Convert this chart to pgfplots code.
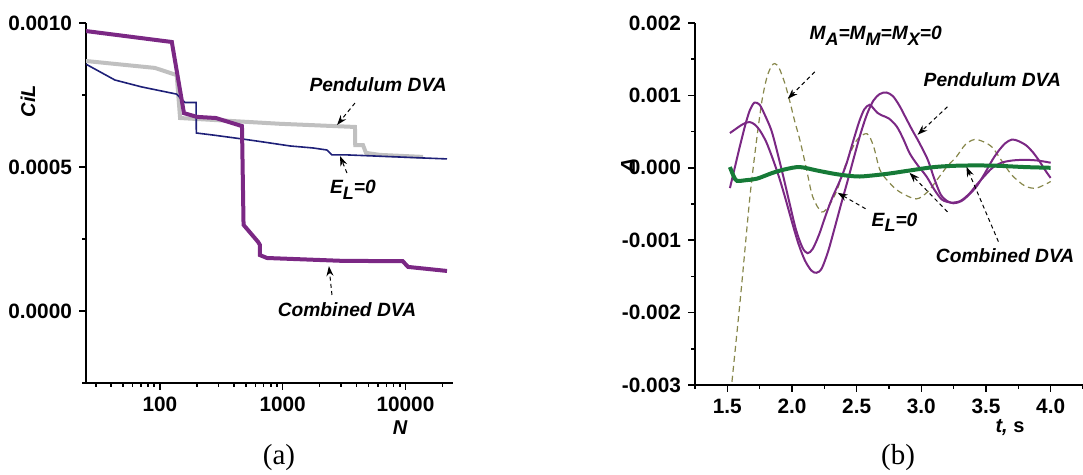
\documentclass[border=0pt]{standalone}
\usepackage{fontspec}
\setmainfont{Liberation Sans}
\newfontfamily\seriffont{Liberation Serif}
\usepackage{pgfplots}
\pgfplotsset{compat=1.18}
\usetikzlibrary{arrows.meta}

\definecolor{cpurple}{RGB}{123,40,132}
\definecolor{cgray}{RGB}{192,192,192}
\definecolor{cnavy}{RGB}{30,32,120}
\definecolor{cgreen}{RGB}{22,122,55}
\definecolor{colive}{RGB}{135,135,75}

\newcommand\sub[1]{\raisebox{-0.3em}{\fontsize{9}{10}\selectfont #1}}

\tikzset{
  lab/.style={font=\fontsize{9.6}{11}\selectfont\bfseries\itshape, inner sep=0pt},
  ann/.style={dash pattern=on 2pt off 1.6pt, line width=0.5pt, black,
    -{Stealth[length=5pt,width=3.5pt]}},
}

\pgfplotsset{
  panel/.style={
    scale only axis,
    axis lines*=left,
    tick align=outside,
    major tick length=3.5pt,
    minor tick length=2pt,
    tick style={black, line width=0.8pt},
    axis line style={line width=0.8pt},
    ticklabel style={font=\fontsize{10.4}{12}\selectfont\bfseries},
    scaled y ticks=false,
    clip mode=individual,
  }
}

\begin{document}
\begin{tikzpicture}
\useasboundingbox (0,0) rectangle (541.5pt,237.5pt);

% (a)
\begin{axis}[panel,
  at={(43pt,46pt)}, anchor=south west,
  width=183.5pt, height=180pt,
  xmode=log, xmin=25, xmax=24400,
  ymin=-0.00025, ymax=0.001,
  xtick={100,1000,10000}, xticklabels={100,1000,10000},
  minor xtick={30,40,50,60,70,80,90,200,300,400,500,600,700,800,900,2000,3000,4000,5000,6000,7000,8000,9000,20000},
  ytick={0,0.0005,0.001}, yticklabels={0.0000,0.0005,0.0010},
  minor ytick={-0.00025,0.00025,0.00075},
]
\addplot[cgray, line width=2pt] coordinates {
 (25,0.000868) (91,0.000844) (137,0.000819) (146,0.000670) (950,0.000650)
 (3880,0.000639) (3900,0.000576) (4510,0.000576) (4770,0.000549)
 (6200,0.000542) (13900,0.000535)
};
\addplot[cnavy, line width=0.8pt] coordinates {
 (25,0.000857) (43,0.000802) (71,0.000778) (137,0.000753) (150,0.000735)
 (160,0.000724) (197,0.000724) (198,0.000618) (270,0.000611) (474,0.000597)
 (690,0.000587) (1150,0.000573) (1770,0.000566) (2290,0.000559)
 (2520,0.000542) (3320,0.000542) (8500,0.000535) (21800,0.000528)
};
\addplot[cpurple, line width=2pt] coordinates {
 (25,0.000972) (125,0.000934) (157,0.000687) (200,0.000674) (286,0.000670)
 (466,0.000642) (480,0.000299) (630,0.000240) (653,0.000229) (653,0.000194)
 (745,0.000184) (3090,0.000174) (9500,0.000173) (10500,0.000153)
 (21800,0.000139)
};
\node[lab] at (axis cs:5990,0.000785) {Pendulum DVA};
\draw[ann] (axis cs:3880,0.000722) -- (axis cs:2775,0.000646);
\node[lab] at (axis cs:3740,0.00042) {E\sub{L}=0};
\draw[ann] (axis cs:3340,0.000479) -- (axis cs:2930,0.000538);
\node[lab] at (axis cs:3340,0.000005) {Combined DVA};
\draw[ann] (axis cs:2520,0.0000556) -- (axis cs:2380,0.000156);
\end{axis}

% (b)
\begin{axis}[panel,
  at={(347.5pt,45pt)}, anchor=south west,
  width=194pt, height=181pt,
  xmin=1.25, xmax=4.25, ymin=-0.003, ymax=0.002,
  xtick={1.5,2.0,2.5,3.0,3.5,4.0}, xticklabels={1.5,2.0,2.5,3.0,3.5,4.0},
  minor xtick={1.25,1.75,2.25,2.75,3.25,3.75,4.25},
  ytick={-0.003,-0.002,-0.001,0,0.001,0.002},
  yticklabels={-0.003,-0.002,-0.001,0.000,0.001,0.002},
  minor ytick={-0.0025,-0.0015,-0.0005,0.0005,0.0015},
]
\addplot[colive, line width=0.6pt, dash pattern=on 3pt off 2pt, smooth] coordinates {
 (1.52,-0.00323) (1.60,-0.00182) (1.669,-0.00050) (1.70,0.00000) (1.736,0.00052)
 (1.77,0.00095) (1.806,0.00125) (1.84,0.00140) (1.867,0.00144) (1.90,0.00138)
 (1.944,0.00117) (1.98,0.00094) (2.02,0.00065) (2.06,0.00039) (2.11,0.00000)
 (2.16,-0.00040) (2.23,-0.00061) (2.29,-0.00051) (2.35,-0.00030) (2.42,0.00007)
 (2.50,0.00038) (2.58,0.00047) (2.63,0.00030) (2.68,-0.00003) (2.75,-0.00020)
 (2.83,-0.00033) (2.96,-0.00043) (3.05,-0.00033) (3.12,-0.00017) (3.20,0.00002)
 (3.27,0.00015) (3.34,0.00032) (3.41,0.00039) (3.48,0.00036) (3.55,0.00028)
 (3.62,0.00010) (3.70,-0.00010) (3.80,-0.00025) (3.89,-0.00028) (4.00,-0.00019)
};
\addplot[cpurple, line width=1pt, smooth] coordinates {
 (1.52,-0.00028) (1.56,0.00002) (1.60,0.00032) (1.64,0.00060) (1.675,0.00080)
 (1.71,0.00090) (1.75,0.00087) (1.79,0.00073) (1.84,0.00052) (1.88,0.00026)
 (1.93,-0.00010) (1.98,-0.00048) (2.03,-0.00085) (2.08,-0.00110) (2.12,-0.00118)
 (2.16,-0.00112) (2.21,-0.00092) (2.26,-0.00066) (2.31,-0.00042) (2.37,-0.00018)
 (2.42,0.00005) (2.47,0.00035) (2.52,0.00064) (2.56,0.00081) (2.60,0.00087)
 (2.63,0.00082) (2.66,0.00076) (2.70,0.00072) (2.75,0.00068) (2.81,0.00057)
 (2.86,0.00040) (2.91,0.00020) (2.97,0.00004) (3.04,-0.00012) (3.10,-0.00030)
 (3.16,-0.00044) (3.23,-0.00048) (3.30,-0.00046) (3.37,-0.00036) (3.43,-0.00023)
 (3.49,-0.00011) (3.55,0.00000) (3.62,0.00007) (3.70,0.00010) (3.80,0.00011)
 (3.90,0.00010) (4.00,0.00007)
};
\addplot[cpurple, line width=1pt, smooth] coordinates {
 (1.52,0.00048) (1.56,0.00053) (1.60,0.00058) (1.64,0.00062) (1.675,0.00063)
 (1.71,0.00060) (1.75,0.00052) (1.80,0.00036) (1.85,0.00013) (1.90,-0.00013)
 (1.95,-0.00043) (2.00,-0.00075) (2.05,-0.00105) (2.10,-0.00128) (2.15,-0.00142)
 (2.19,-0.00145) (2.23,-0.00139) (2.28,-0.00115) (2.33,-0.00083) (2.38,-0.00050)
 (2.43,-0.00018) (2.48,0.00015) (2.53,0.00047) (2.58,0.00074) (2.63,0.00093)
 (2.68,0.00102) (2.73,0.00104) (2.78,0.00099) (2.83,0.00086) (2.88,0.00069)
 (2.93,0.00052) (2.98,0.00036) (3.05,0.00011) (3.10,-0.00015) (3.15,-0.00037)
 (3.20,-0.00046) (3.25,-0.00049) (3.31,-0.00046) (3.37,-0.00037) (3.43,-0.00025)
 (3.49,-0.00008) (3.55,0.00011) (3.60,0.00024) (3.65,0.00034) (3.70,0.00039)
 (3.75,0.00037) (3.81,0.00031) (3.86,0.00022) (3.91,0.00010) (3.96,-0.00004)
 (4.00,-0.00014)
};
\addplot[cgreen, line width=2pt, smooth] coordinates {
 (1.52,0.00001) (1.55,-0.00012) (1.575,-0.00018) (1.65,-0.00017) (1.73,-0.00015)
 (1.85,-0.00007) (1.95,-0.00002) (2.06,0.00001) (2.20,-0.00004) (2.35,-0.00009)
 (2.50,-0.00012) (2.60,-0.00011) (2.75,-0.00008) (2.90,-0.00004) (3.10,0.00001)
 (3.30,0.00003) (3.55,0.00003) (3.80,0.00001) (4.00,0.00000)
};
\node[lab] at (axis cs:2.647,0.001823) {M\sub{A}=M\sub{M}=M\sub{X}=0};
\draw[ann] (axis cs:2.176,0.001326) -- (axis cs:1.968,0.000953);
\node[lab] at (axis cs:3.549,0.001215) {Pendulum DVA};
\draw[ann] (axis cs:3.202,0.000843) -- (axis cs:2.971,0.000456);
\node[lab] at (axis cs:2.793,-0.000753) {E\sub{L}=0};
\draw[ann] (axis cs:2.569,-0.000566) -- (axis cs:2.353,-0.000345);
\draw[ann] (axis cs:3.202,-0.000608) -- (axis cs:2.909,-0.000069);
\node[lab, anchor=west] at (axis cs:3.110,-0.001209) {Combined DVA};
\draw[ann] (axis cs:3.596,-0.00102) -- (axis cs:3.349,0.0000138);
\end{axis}

% axis labels and panel captions
\node[font=\fontsize{10}{12}\selectfont\bfseries\itshape, rotate=90] at (14pt,187pt) {CiL};
\node[font=\fontsize{10}{12}\selectfont\bfseries\itshape] at (200pt,23.5pt) {N};
\node[font=\fontsize{10}{12}\selectfont\bfseries\itshape, rotate=90] at (314pt,154.5pt) {Δ};
\node[font=\fontsize{10}{12}\selectfont\bfseries] at (505pt,23.5pt) {\itshape t,\upshape\ s};
\node[font=\fontsize{14.5}{16}\selectfont\seriffont] at (139.5pt,8.75pt) {(a)};
\node[font=\fontsize{14.5}{16}\selectfont\seriffont] at (449pt,8.75pt) {(b)};
\end{tikzpicture}
\end{document}
